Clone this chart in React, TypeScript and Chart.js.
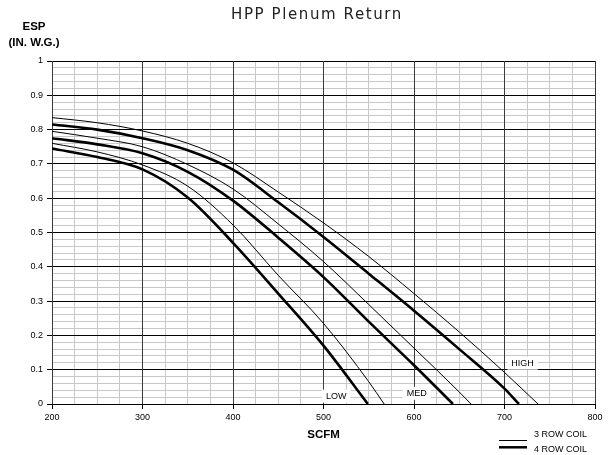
import React, { useEffect, useRef } from 'react';
import { Chart, registerables } from 'chart.js';

Chart.register(...registerables);

const TITLE = 'HPP Plenum Return';
const Y_TITLE = ['ESP', '(IN. W.G.)'];
const X_TITLE = 'SCFM';
const LEGEND_NAMES = ['3 ROW COIL', '4 ROW COIL'];

const X_MIN = 200;
const X_MAX = 800;
const X_MINOR_STEP = 25;
const X_MAJOR_STEP = 100;
const Y_MIN = 0;
const Y_MAX = 1;
const Y_MINOR_DIVS = 50; // 0.02 steps
const Y_MAJOR_EVERY = 5; // every 0.1

// HIGH speed
const HIGH3_X = [200, 250, 300, 350, 400, 450, 500, 550, 600, 650, 700, 737];
const HIGH3_Y = [0.835, 0.82, 0.796, 0.76, 0.703, 0.618, 0.528, 0.43, 0.322, 0.21, 0.092, 0];
const HIGH4_X = [200, 250, 300, 350, 400, 450, 500, 550, 600, 650, 700, 716];
const HIGH4_Y = [0.815, 0.8, 0.775, 0.74, 0.683, 0.588, 0.487, 0.38, 0.272, 0.16, 0.045, 0];
// MED speed
const MED3_X = [200, 250, 300, 350, 400, 450, 500, 550, 600, 650, 663];
const MED3_Y = [0.795, 0.775, 0.75, 0.698, 0.627, 0.525, 0.415, 0.29, 0.163, 0.035, 0];
const MED4_X = [200, 250, 300, 350, 400, 450, 500, 550, 600, 643];
const MED4_Y = [0.775, 0.757, 0.731, 0.677, 0.593, 0.485, 0.37, 0.24, 0.113, 0];
// LOW speed
const LOW3_X = [200, 250, 300, 350, 400, 450, 500, 550, 567];
const LOW3_Y = [0.76, 0.735, 0.697, 0.635, 0.522, 0.375, 0.235, 0.065, 0];
const LOW4_X = [200, 250, 300, 350, 400, 450, 500, 549];
const LOW4_Y = [0.745, 0.72, 0.684, 0.602, 0.47, 0.322, 0.17, 0];

const CURVE_LABEL_TEXT = ['LOW', 'MED', 'HIGH'];
const CURVE_LABEL_X = [514, 603, 720];
const CURVE_LABEL_Y = [0.023, 0.031, 0.119];

const FONT = '"Liberation Sans", Arial, sans-serif';

function pts(xs: number[], ys: number[]) {
  return xs.map((x, i) => ({ x, y: ys[i] }));
}

const isXMajor = (v: number) => Math.abs(v % X_MAJOR_STEP) < 1e-6;
const isYMajor = (v: number) => {
  const i = Math.round(v * Y_MINOR_DIVS);
  return i % Y_MAJOR_EVERY === 0;
};
const align = (p: number) => Math.round(p - 0.5) + 0.5;

const decorPlugin = {
  id: 'decor',
  beforeDatasetsDraw(chart: any) {
    const { ctx, scales, chartArea } = chart;
    const x = scales.x;
    const y = scales.y;
    ctx.save();
    // redraw major grid lines over the minor ones
    ctx.lineWidth = 1;
    ctx.strokeStyle = '#000';
    y.ticks.forEach((t: any) => {
      if (!isYMajor(t.value)) return;
      const py = align(y.getPixelForValue(t.value));
      ctx.beginPath();
      ctx.moveTo(chartArea.left, py);
      ctx.lineTo(chartArea.right, py);
      ctx.stroke();
    });
    ctx.strokeStyle = '#3a3a3a';
    x.ticks.forEach((t: any) => {
      if (!isXMajor(t.value)) return;
      const px = align(x.getPixelForValue(t.value));
      ctx.beginPath();
      ctx.moveTo(px, chartArea.top);
      ctx.lineTo(px, chartArea.bottom);
      ctx.stroke();
    });
    // curve labels
    ctx.font = `9px ${FONT}`;
    ctx.textAlign = 'center';
    ctx.textBaseline = 'middle';
    CURVE_LABEL_TEXT.forEach((t, i) => {
      const px = x.getPixelForValue(CURVE_LABEL_X[i]);
      const py = y.getPixelForValue(CURVE_LABEL_Y[i]);
      const w = ctx.measureText(t).width + 8;
      ctx.fillStyle = '#fff';
      ctx.fillRect(px - w / 2, py - 6.5, w, 13);
      ctx.fillStyle = '#000';
      ctx.fillText(t, px, py);
    });
    ctx.restore();
  },
  afterDraw(chart: any) {
    const { ctx, chartArea } = chart;
    ctx.save();
    // Title
    ctx.fillStyle = '#222';
    ctx.font = '15px "DejaVu Sans", Verdana, sans-serif';
    try { (ctx as any).letterSpacing = '1.6px'; } catch (e) {}
    ctx.textAlign = 'center';
    ctx.textBaseline = 'middle';
    ctx.fillText(TITLE, 317, 15.5);
    try { (ctx as any).letterSpacing = '0px'; } catch (e) {}
    // Y title
    ctx.fillStyle = '#000';
    ctx.font = `bold 11.5px ${FONT}`;
    ctx.fillText(Y_TITLE[0], 34, 27);
    ctx.fillText(Y_TITLE[1], 34, 42.5);
    // X title
    ctx.fillText(X_TITLE, (chartArea.left + chartArea.right) / 2, 435);
    // Legend
    ctx.strokeStyle = '#000';
    ctx.lineWidth = 1;
    ctx.beginPath();
    ctx.moveTo(499, 440.5);
    ctx.lineTo(527, 440.5);
    ctx.stroke();
    ctx.lineWidth = 2.5;
    ctx.beginPath();
    ctx.moveTo(499, 447.3);
    ctx.lineTo(527, 447.3);
    ctx.stroke();
    ctx.font = `9px ${FONT}`;
    ctx.textAlign = 'left';
    ctx.fillText(LEGEND_NAMES[0], 534, 435);
    ctx.fillText(LEGEND_NAMES[1], 534, 450);
    ctx.restore();
  },
};

export default function App() {
  const ref = useRef<HTMLCanvasElement>(null);
  useEffect(() => {
    const thin = { borderColor: '#000', borderWidth: 1, pointRadius: 0, fill: false, cubicInterpolationMode: 'monotone' as const };
    const thick = { borderColor: '#000', borderWidth: 2.6, pointRadius: 0, fill: false, cubicInterpolationMode: 'monotone' as const };
    const chart = new Chart(ref.current!, {
      type: 'line',
      data: {
        datasets: [
          { label: 'HIGH 3', data: pts(HIGH3_X, HIGH3_Y), ...thin },
          { label: 'HIGH 4', data: pts(HIGH4_X, HIGH4_Y), ...thick },
          { label: 'MED 3', data: pts(MED3_X, MED3_Y), ...thin },
          { label: 'MED 4', data: pts(MED4_X, MED4_Y), ...thick },
          { label: 'LOW 3', data: pts(LOW3_X, LOW3_Y), ...thin },
          { label: 'LOW 4', data: pts(LOW4_X, LOW4_Y), ...thick },
        ],
      },
      options: {
        animation: false,
        responsive: false,
        maintainAspectRatio: false,
        layout: { padding: { top: 61, right: 13, left: 0, bottom: 0 } },
        plugins: { legend: { display: false }, title: { display: false }, tooltip: { enabled: false } },
        scales: {
          x: {
            type: 'linear',
            min: X_MIN,
            max: X_MAX,
            afterBuildTicks: (axis: any) => {
              const t = [];
              for (let v = X_MIN; v <= X_MAX; v += X_MINOR_STEP) t.push({ value: v });
              axis.ticks = t;
            },
            afterFit: (s: any) => { s.height = 51; s.paddingLeft = 0; s.paddingRight = 0; },
            ticks: {
              autoSkip: false,
              maxRotation: 0,
              padding: 3,
              color: '#000',
              font: { family: FONT, size: 9 },
              callback: (v: any) => (isXMajor(Number(v)) ? String(v) : ''),
            },
            grid: {
              color: (c: any) => (isXMajor(c.tick.value) ? '#3a3a3a' : '#c8c8c8'),
              tickColor: (c: any) => (isXMajor(c.tick.value) ? '#000' : 'rgba(0,0,0,0)'),
              tickLength: 5,
              lineWidth: 1,
            },
            border: { color: '#000', width: 1 },
          },
          y: {
            type: 'linear',
            min: Y_MIN,
            max: Y_MAX,
            afterBuildTicks: (axis: any) => {
              const t = [];
              for (let i = 0; i <= Y_MINOR_DIVS; i++) t.push({ value: Y_MIN + ((Y_MAX - Y_MIN) * i) / Y_MINOR_DIVS });
              axis.ticks = t;
            },
            afterFit: (s: any) => { s.width = 52; s.paddingTop = 0; s.paddingBottom = 0; },
            ticks: {
              autoSkip: false,
              padding: 4,
              color: '#000',
              font: { family: FONT, size: 9 },
              callback: (v: any) => (isYMajor(Number(v)) ? String(Number(Number(v).toFixed(1))) : ''),
            },
            grid: {
              color: (c: any) => (isYMajor(c.tick.value) ? '#000' : '#c8c8c8'),
              tickColor: (c: any) => (isYMajor(c.tick.value) ? '#000' : 'rgba(0,0,0,0)'),
              tickLength: 5,
              lineWidth: 1,
            },
            border: { color: '#000', width: 1 },
          },
        },
      },
      plugins: [decorPlugin],
    });
    return () => chart.destroy();
  }, []);
  return (
    <div style={{ position: 'fixed', left: 0, top: 0, width: 608, height: 455, background: '#fff' }}>
      <canvas ref={ref} width={608} height={455} style={{ display: 'block', width: 608, height: 455 }} />
    </div>
  );
}
